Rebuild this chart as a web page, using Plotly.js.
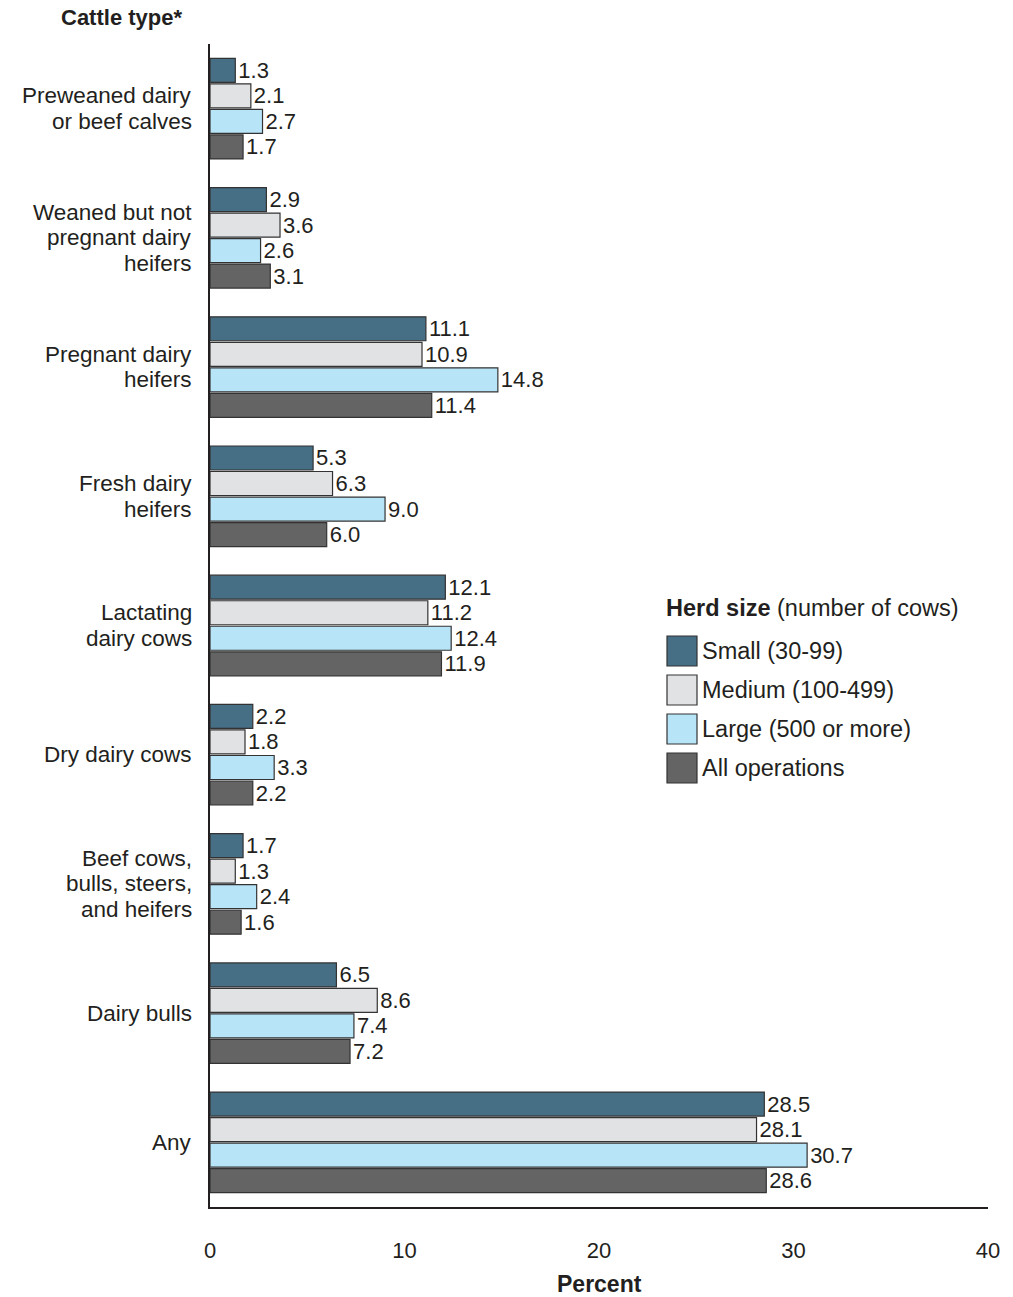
<!DOCTYPE html>
<html>
<head>
<meta charset="utf-8">
<script src="https://cdn.plot.ly/plotly-3.0.1.min.js"></script>
<style>
  html, body { margin: 0; padding: 0; background: #fff; }
  #chart { width: 1013px; height: 1297px; }
</style>
</head>
<body>
<div id="chart"></div>
<script>
// ---- Data ----
const categories = [
  "Preweaned dairy<br>or beef calves",
  "Weaned but not<br>pregnant dairy<br>heifers",
  "Pregnant dairy<br>heifers",
  "Fresh dairy<br>heifers",
  "Lactating<br>dairy cows",
  "Dry dairy cows",
  "Beef cows,<br>bulls, steers,<br>and heifers",
  "Dairy bulls",
  "Any"
];
const seriesNames = ["Small (30-99)", "Medium (100-499)", "Large (500 or more)", "All operations"];
const small  = [1.3, 2.9, 11.1, 5.3, 12.1, 2.2, 1.7, 6.5, 28.5];
const medium = [2.1, 3.6, 10.9, 6.3, 11.2, 1.8, 1.3, 8.6, 28.1];
const large  = [2.7, 2.6, 14.8, 9.0, 12.4, 3.3, 2.4, 7.4, 30.7];
const allOps = [1.7, 3.1, 11.4, 6.0, 11.9, 2.2, 1.6, 7.2, 28.6];
const xTickVals = [0, 10, 20, 30, 40];

// ---- Styles ----
const colors = ["#466e84", "#e1e2e4", "#b8e4f8", "#646464"];
const FONT = "Liberation Sans, Arial, Helvetica, sans-serif";
const TXT = "#231f20";

const W = 1013, H = 1297;
const M = { l: 210, r: 25, t: 44, b: 90 };
const plotW = W - M.l - M.r, plotH = H - M.t - M.b;
const px2paperX = px => (px - M.l) / plotW;
const px2paperY = py => (H - M.b - py) / plotH;

const seriesValues = [small, medium, large, allOps];
const traces = seriesValues.map((vals, i) => ({
  type: "bar",
  orientation: "h",
  name: seriesNames[i],
  y: categories,
  x: vals,
  marker: { color: colors[i], line: { color: "#333333", width: 1.2 } },
  text: vals.map(v => v.toFixed(1)),
  textposition: "outside",
  constraintext: "none",
  cliponaxis: false,
  textfont: { family: FONT, size: 22, color: TXT },
  hoverinfo: "skip"
}));

const annotations = [];
// Category labels (one annotation per line for tight line spacing)
const lineH = 25.5;
categories.forEach(cat => {
  const lines = cat.split("<br>");
  const n = lines.length;
  lines.forEach((ln, i) => {
    annotations.push({
      xref: "paper", yref: "y", x: 0, y: cat,
      xanchor: "right", yanchor: "middle",
      xshift: -16, yshift: ((n - 1) / 2 - i) * lineH,
      text: ln, showarrow: false,
      font: { family: FONT, size: 22.5, color: TXT }
    });
  });
});
// Axis titles
annotations.push({
  xref: "paper", yref: "paper", x: px2paperX(121), y: px2paperY(18),
  xanchor: "center", yanchor: "middle", showarrow: false,
  text: "<b>Cattle type*</b>", font: { family: FONT, size: 22, color: TXT }
});
annotations.push({
  xref: "paper", yref: "paper", x: px2paperX(599), y: px2paperY(1284),
  xanchor: "center", yanchor: "middle", showarrow: false,
  text: "<b>Percent</b>", font: { family: FONT, size: 23, color: TXT }
});
// Custom legend
annotations.push({
  xref: "paper", yref: "paper", x: px2paperX(664), y: px2paperY(608),
  xanchor: "left", yanchor: "middle", showarrow: false,
  text: "<b>Herd size</b> (number of cows)", font: { family: FONT, size: 23.5, color: TXT }
});
const shapes = [];
const legTop = 636, legStep = 39, box = 30;
seriesNames.forEach((nm, i) => {
  const y0 = legTop + i * legStep;
  shapes.push({
    type: "rect", xref: "paper", yref: "paper",
    x0: px2paperX(667), x1: px2paperX(667 + box),
    y0: px2paperY(y0 + box), y1: px2paperY(y0),
    fillcolor: colors[i], line: { color: "#333333", width: 1.2 }
  });
  annotations.push({
    xref: "paper", yref: "paper", x: px2paperX(700), y: px2paperY(y0 + box / 2),
    xanchor: "left", yanchor: "middle", showarrow: false,
    text: nm, font: { family: FONT, size: 23.5, color: TXT }
  });
});

const layout = {
  width: W, height: H,
  margin: M,
  paper_bgcolor: "#ffffff", plot_bgcolor: "#ffffff",
  barmode: "group", bargap: 0.21, bargroupgap: 0.06,
  showlegend: false,
  font: { family: FONT, color: TXT },
  xaxis: {
    range: [0, 40], tickvals: xTickVals, ticktext: xTickVals.map(String),
    showgrid: false, zeroline: false,
    showline: true, linecolor: "#231f20", linewidth: 2,
    ticks: "outside", ticklen: 23, tickcolor: "rgba(0,0,0,0)",
    tickfont: { family: FONT, size: 22, color: TXT },
    fixedrange: true
  },
  yaxis: {
    type: "category", categoryorder: "array", categoryarray: categories,
    autorange: "reversed",
    showticklabels: false, ticks: "",
    showgrid: false, zeroline: false,
    showline: true, linecolor: "#231f20", linewidth: 2,
    fixedrange: true
  },
  annotations: annotations,
  shapes: shapes
};

Plotly.newPlot("chart", traces, layout, { displayModeBar: false, staticPlot: true });
</script>
</body>
</html>
